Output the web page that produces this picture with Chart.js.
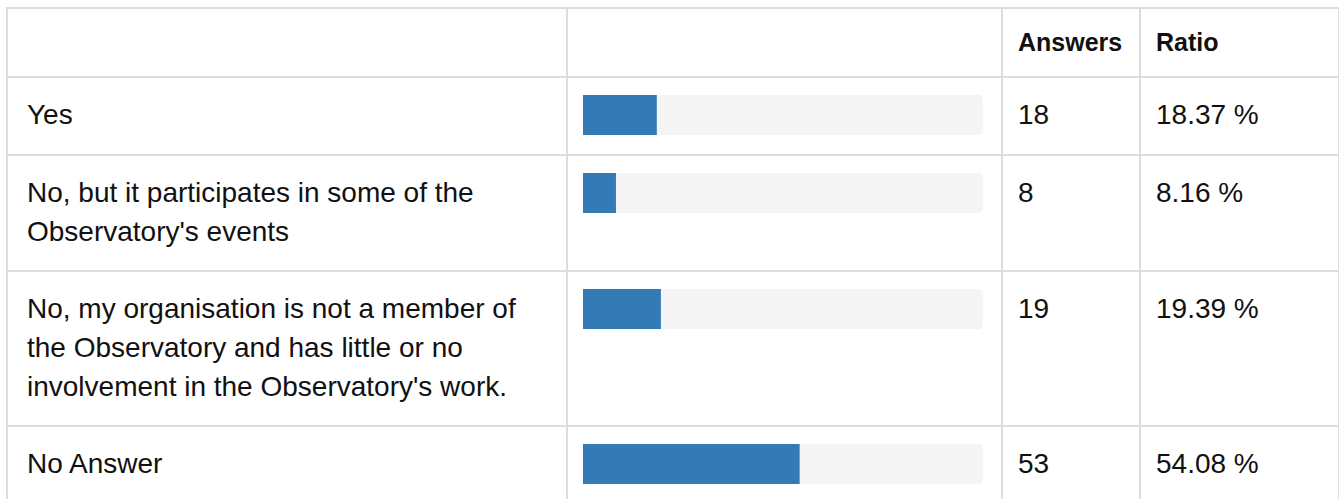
<!DOCTYPE html>
<html>
<head>
<meta charset="utf-8">
<script src="https://cdn.jsdelivr.net/npm/chart.js@4/dist/chart.umd.min.js"></script>
<style>
  html, body { margin: 0; padding: 0; background: #fff; overflow: hidden; }
  body { width: 1339px; height: 499px; font-family: "Liberation Sans", sans-serif; color: #111; }
  table { position: absolute; left: 6px; top: 7px; width: 1332px; border-collapse: collapse; table-layout: fixed; }
  td, th { border: 2px solid #ddd; font-size: 28px; line-height: 39px; text-align: left; vertical-align: top; padding: 17px 12px 19px 15px; }
  th { padding-top: 14px; padding-bottom: 14px; font-weight: bold; font-size: 25px; }
  td.lbl { padding-left: 19px; }
  .bar { width: 400px; height: 40px; position: relative; }
</style>
</head>
<body>
<table id="tbl">
  <colgroup>
    <col style="width:560px">
    <col style="width:435px">
    <col style="width:138px">
    <col style="width:199px">
  </colgroup>
  <thead>
    <tr><th></th><th></th><th id="hAns"></th><th id="hRat"></th></tr>
  </thead>
  <tbody id="rows"></tbody>
</table>
<script>
// data
var categories = [
    "Yes",
    "No, but it participates in some of the Observatory's events",
    "No, my organisation is not a member of the Observatory and has little or no involvement in the Observatory's work.",
    "No Answer"
];
var answers = [18, 8, 19, 53];
var ratios = [18.37, 8.16, 19.39, 54.08];
var headers = ["Answers", "Ratio"];

document.getElementById("hAns").textContent = headers[0];
document.getElementById("hRat").textContent = headers[1];

var tbody = document.getElementById("rows");

for (var i = 0; i < categories.length; i++) {
    var tr = document.createElement("tr");
    tr.innerHTML = `
        <td class="lbl"></td>
        <td><div class="bar"><canvas id="bar${i}"></canvas></div></td>
        <td></td>
        <td></td>`;
    tr.children[0].textContent = categories[i];
    tr.children[2].textContent = answers[i];
    tr.children[3].textContent = ratios[i].toFixed(2) + " %";
    tbody.appendChild(tr);

    new Chart(document.getElementById("bar" + i), {
        type: 'bar',
        data: {
            labels: [categories[i]],
            datasets: [{
                data: [ratios[i]],
                backgroundColor: '#337ab7',
                borderWidth: 0,
                borderRadius: 0,
                order: 0
            }, {
                data: [100], // fondo de la barra
                backgroundColor: '#f4f4f4',
                borderWidth: 0,
                borderRadius: 6,
                borderSkipped: false,
                order: 1
            }]
        },
        options: {
            indexAxis: 'y',
            responsive: true,
            maintainAspectRatio: false,
            animation: false,
            events: [],
            layout: { padding: 0 },
            datasets: {
                bar: { grouped: false, barPercentage: 1, categoryPercentage: 1 }
            },
            scales: {
                x: { display: false, min: 0, max: 100 },
                y: { display: false }
            },
            plugins: {
                legend: { display: false },
                tooltip: { enabled: false }
            }
        }
    });
}
</script>
</body>
</html>
